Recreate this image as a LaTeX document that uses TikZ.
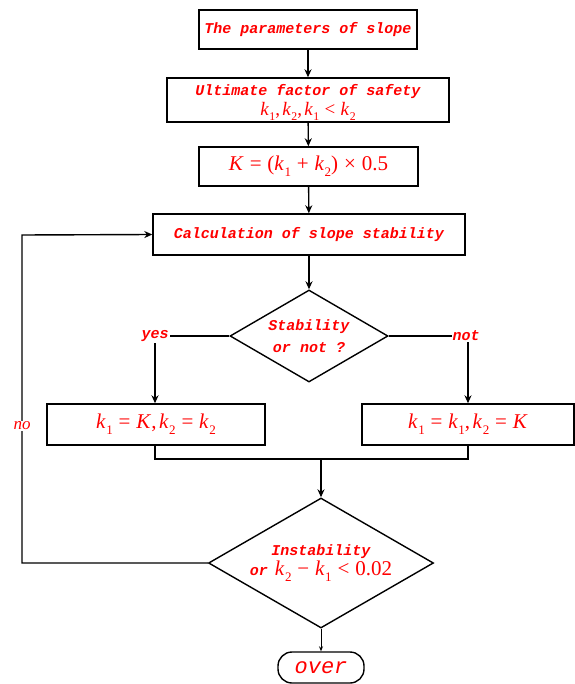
\documentclass[tikz,border=0pt]{standalone}
\usepackage{fontspec}
\setmainfont{Liberation Serif}
\setmonofont{Liberation Mono}
\usetikzlibrary{shapes.geometric,arrows.meta}
\definecolor{txtred}{RGB}{255,0,0}
\newcommand\kv[1]{\textit{k}\kern0.02em\raisebox{-0.28em}{\fontsize{0.62em}{1em}\selectfont #1}}
\newcommand\rel[1]{\kern0.28em#1\kern0.28em}
\newcommand\cm{,\kern0.12em}
\tikzset{
  lbl/.style={font=\ttfamily\bfseries\itshape\fontsize{15}{22}\selectfont, text=txtred},
  mth/.style={font=\fontsize{21}{24}\selectfont, text=txtred},
  box/.style={draw, line width=1.4pt, inner sep=0pt, align=center},
  dia/.style={draw, diamond, line width=1.4pt, inner sep=0pt, align=center, text=txtred},
  conn/.style={line width=1.4pt},
  arr/.style={conn, -{Stealth[length=8pt,width=7pt]}},
}
\begin{document}
\begin{tikzpicture}[x=1pt,y=-1pt]
\useasboundingbox (0,0) rectangle (574,684);
\node[box, lbl, minimum width=218pt, minimum height=39pt] (b1) at (308,29.5) {The parameters of slope};
\node[box, minimum width=282pt, minimum height=44pt, align=center, text=txtred, text depth=0pt] (b2) at (308,100)
  {{\ttfamily\bfseries\itshape\fontsize{15}{16}\selectfont Ultimate factor of safety}\\[2pt]
   {\fontsize{19}{19}\selectfont \kv{1}\cm\kv{2}\cm\kv{1}\rel{<}\kv{2}}};
\node[box, mth, minimum width=219pt, minimum height=39pt] (b3) at (308.5,166.5)
  {\textit{K}\rel{=}(\kv{1}\rel{+}\kv{2})\rel{×}0.5};
\node[box, lbl, minimum width=312pt, minimum height=41pt] (b4) at (309,234.5) {Calculation of slope stability};
\node[dia, lbl, minimum width=158pt, minimum height=92pt, aspect=1.72] (d1) at (309,336) {Stability\\or not ?};
\node[box, mth, minimum width=218pt, minimum height=41pt] (bl) at (156,424.5)
  {\kv{1}\rel{=}\textit{K}\cm\kv{2}\rel{=}\kv{2}};
\node[box, mth, minimum width=212pt, minimum height=41pt] (br) at (468,424.5)
  {\kv{1}\rel{=}\kv{1}\cm\kv{2}\rel{=}\textit{K}};
\node[dia, minimum width=225pt, minimum height=130pt, aspect=1.73] (d2) at (321,563)
  {{\ttfamily\bfseries\itshape\fontsize{15}{18}\selectfont Instability}\\[1pt]
   {\ttfamily\bfseries\itshape\fontsize{15}{18}\selectfont or}\hspace{7pt}{\fontsize{21}{22}\selectfont \kv{2}\rel{−}\kv{1}\rel{<}0.02}};
\node[draw, line width=1.4pt, rounded corners=14pt, minimum width=86pt, minimum height=31pt, inner sep=0pt,
  font=\ttfamily\itshape\fontsize{22}{24}\selectfont, text=txtred] (ov) at (321,667.5) {over};

\coordinate (cyes) at (155,336);
\coordinate (cnot) at (468,336);
\coordinate (ml) at (155,459);
\coordinate (mr) at (468,459);
\coordinate (mm) at (321,459);
\coordinate (lb) at (22,563);
\coordinate (lt) at (22,235);

\draw[arr] (b1) -- (b2);
\draw[arr] (b2) -- (b3);
\draw[arr] (b3) -- (b4);
\draw[arr] (b4) -- (d1);
\draw[conn] (d1.west) -- (cyes);
\draw[arr] (cyes) -- (cyes |- bl.north);
\draw[conn] (d1.east) -- (cnot);
\draw[arr] (cnot) -- (cnot |- br.north);
\draw[conn] (ml |- bl.south) -- (ml) -- (mr) -- (mr |- br.south);
\draw[arr] (mm) -- (d2.north);
\draw[arr] (d2.west) -- (lb) -- (lt) -- (b4.west);
\draw[line width=0.8pt, -{Stealth[length=5pt,width=4pt]}] (d2.south) -- (ov.north);

\node[lbl, fill=white, inner sep=1pt] (yes) at (cyes) {yes};
\node[lbl, fill=white, inner sep=1pt] (not) at (466,336) {not};
\node[fill=white, inner sep=1pt, text=txtred, font=\itshape\fontsize{17}{18}\selectfont] (no) at (22,426) {no};
\end{tikzpicture}
\end{document}
